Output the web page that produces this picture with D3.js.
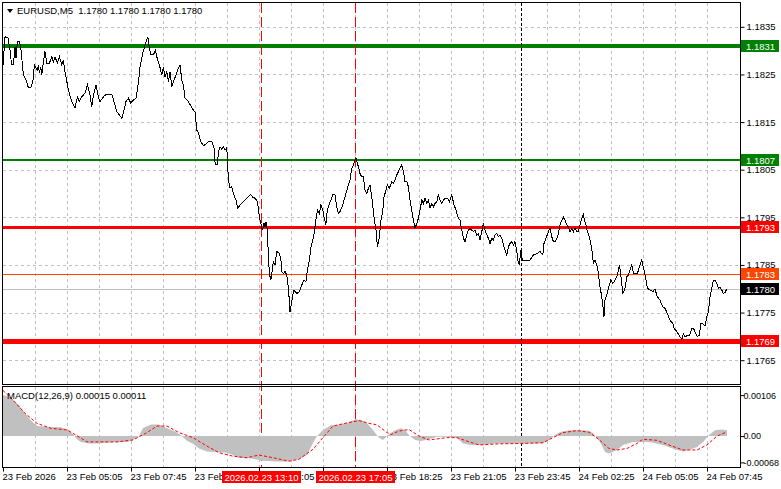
<!DOCTYPE html>
<html>
<head>
<meta charset="utf-8">
<script src="https://cdn.jsdelivr.net/npm/d3@7"></script>
<style>
  body { margin: 0; background: #fff; }
  svg { display: block; font-family: "Liberation Sans", Arial, sans-serif; }
</style>
</head>
<body>
<svg id="chart" width="781" height="489"></svg>
<script>
// EURUSD M5 - close prices (bar index from left edge of chart)
const bars = [
  0,1,2.6,3.5,4.3,5.2,6,6.5,7.2,8.2,
  8.9,10.2,11.5,12.7,13.9,14.9,15.7,16.5,17.2,17.7,
  18.2,18.9,19.4,20.2,21,21.9,23.2,24.4,25.2,26,
  27.2,28.2,29.4,30.2,31,32.7,34.4,36,37.2,38.2,
  39.4,41,42.2,43.5,44.4,45.2,46.5,47.7,48.5,50.2,
  51.5,54.4,55.5,56.9,58.2,59.4,60.5,61.5,62.7,63.9,
  65.2,66.5,67.7,68.5,69.9,71,71.9,72.4,73.2,73.9,
  75.2,76.2,76.9,78.2,79.4,80.2,81,81.9,82.7,83.5,
  84.4,85.2,86.5,87.7,88.5,89.4,90.2,91,92.7,94.4,
  96,96.9,97.7,98.9,100.2,101.5,102.7,104.4,105.5,106,
  106.5,107.2,107.7,108.5,109.4,110.2,111,111.9,112.7,113.5,
  114.4,115.2,116.5,117.4,118.5,120.2,121.9,123.9,124.9,126,
  127.2,128.2,128.9,129.7,130.5,131,131.5,132.2,132.7,133.2,
  133.9,134.4,135.2,136,136.9,138.2,138.9,139.4,140.2,141,
  141.9,142.7,143.2,143.5,144.4,144.9,145.5,146.9,148.2,149.4,
  150.5,151.5,152.2,153.2,153.9,154.9,155.7,156.4,157.2,158.2,
  158.9,159.9,160.5,161.4,161.9,162.7,163.9,164.9,166,166.9,
  167.7,168.5,169.9,171,172.2,173.5,174.4,175.2,176,176.5,
  176.9,177.7,178.5,179.4,180.2,181,181.9,182.7,183.5,184.4,
  185.5,186.5,187.2,188.2,188.9,189.9,190.5,191.5,192.2,193.2,
  194.4,195.2,196,196.9,197.7,198.5,199.4,200.2,201,201.9,
  202.7,203.5,204.9,206,206.9,207.7,208.5,209.4,210.2,211,
  211.9,212.7,213.5,214.4,215.2,216,216.9,217.7,218.5,219.4,
  220.2,221,222.2,223.2,224.4,225.5,226.5,227.7,228.5,229.4,
  230.2,231,231.9,232.7,233.5,234.4,235.2,236,236.9,237.7,
  238.5,239.4,240.2,241,241.9,242.7,243.5,244.4,245.2,246,
  246.9,247.7,248.5,249.4,250.2,251,251.9,252.7,253.5,254.4,
  255.2,256,256.9,257.4,258.2,258.9,259.7,260.5,263.5,265.2,
  266.9,268.5,269.9,270.5,271.5,272.7,273.5,274.4,275.2,276,
  276.9,277.7,278.5,279.4,280.2,281,281.9,282.7,283.5,284.4,
  285.2,286,286.9,287.7,288.5,289.4,290.2,290.7,291.5,292.2,
  293.2,293.9,294.7,295.2,296,296.9,297.7,298.5,299.4,300.2,
  300.5,301,301.9,303.2,303.9,304.9,306,307.2,308.2,308.9,
  309.9,311,311.9,312.7,313.5,314.4,315.2,316,317.2,318.2,
  319.4,320.5,321.5,322.2,323.5,324.9,326,327.2,328.5,329.9,
  331,332.2,333.5,334.9,335.5,336.9,338.5,339.4,340.2,341,
  341.9,343.2,344.4,345.2,346,347.2,348.2,348.9,349.9,351,
  351.9,352.7,353.5,354.4,355.2,356,356.9,357.7,358.5,359.4,
  360.2,361,361.9
];
const closes = [
  1.18270,1.18329,1.18326,1.18301,1.18270,1.18270,1.18308,1.18284,1.18319,1.18319,
  1.18306,1.18249,1.18238,1.18222,1.18222,1.18234,1.18270,1.18264,1.18259,1.18270,
  1.18253,1.18266,1.18249,1.18277,1.18298,1.18274,1.18274,1.18287,1.18277,1.18287,
  1.18274,1.18287,1.18270,1.18280,1.18256,1.18217,1.18193,1.18180,1.18203,1.18193,
  1.18203,1.18211,1.18228,1.18207,1.18182,1.18207,1.18228,1.18203,1.18193,1.18203,
  1.18208,1.18208,1.18193,1.18172,1.18165,1.18158,1.18175,1.18193,1.18200,1.18190,
  1.18196,1.18200,1.18232,1.18266,1.18295,1.18312,1.18322,1.18329,1.18305,1.18291,
  1.18291,1.18301,1.18287,1.18270,1.18249,1.18266,1.18245,1.18256,1.18235,1.18256,
  1.18224,1.18235,1.18249,1.18264,1.18270,1.18238,1.18228,1.18201,1.18193,1.18180,
  1.18171,1.18133,1.18127,1.18109,1.18100,1.18104,1.18109,1.18109,1.18096,1.18067,
  1.18060,1.18060,1.18088,1.18098,1.18093,1.18098,1.18091,1.18096,1.18028,1.18012,
  1.18014,1.18000,1.17986,1.17969,1.17976,1.17983,1.17990,1.17998,1.17992,1.17990,
  1.17983,1.17951,1.17937,1.17923,1.17937,1.17930,1.17941,1.17923,1.17867,1.17832,
  1.17818,1.17832,1.17857,1.17850,1.17878,1.17874,1.17864,1.17836,1.17832,1.17836,
  1.17829,1.17801,1.17773,1.17752,1.17773,1.17787,1.17797,1.17790,1.17794,1.17808,
  1.17818,1.17815,1.17839,1.17860,1.17885,1.17902,1.17920,1.17944,1.17965,1.17958,
  1.17976,1.17965,1.17951,1.17934,1.17958,1.17972,1.17986,1.17997,1.17997,1.17972,
  1.17958,1.17962,1.17976,1.17993,1.18011,1.18028,1.18053,1.18060,1.18070,1.18074,
  1.18067,1.18056,1.18042,1.18035,1.18035,1.18007,1.18000,1.18011,1.18018,1.17993,
  1.17951,1.17923,1.17888,1.17909,1.17941,1.17965,1.17993,1.18007,1.18018,1.18011,
  1.18025,1.18021,1.18028,1.18039,1.18046,1.18053,1.18060,1.18046,1.18025,1.18025,
  1.18014,1.17986,1.17951,1.17927,1.17937,1.17948,1.17965,1.17986,1.17979,1.17990,
  1.17979,1.17986,1.17969,1.17979,1.17972,1.17979,1.17983,1.17997,1.17986,1.17979,
  1.17986,1.17990,1.17990,1.17983,1.17997,1.17976,1.17965,1.17948,1.17944,1.17923,
  1.17906,1.17899,1.17913,1.17923,1.17927,1.17923,1.17920,1.17923,1.17913,1.17916,
  1.17902,1.17920,1.17937,1.17923,1.17913,1.17906,1.17895,1.17906,1.17902,1.17913,
  1.17916,1.17909,1.17913,1.17906,1.17892,1.17881,1.17871,1.17888,1.17895,1.17899,
  1.17892,1.17899,1.17878,1.17860,1.17850,1.17881,1.17860,1.17860,1.17860,1.17871,
  1.17874,1.17878,1.17871,1.17895,1.17906,1.17920,1.17927,1.17909,1.17899,1.17899,
  1.17906,1.17916,1.17934,1.17944,1.17950,1.17944,1.17934,1.17930,1.17920,1.17927,
  1.17920,1.17927,1.17920,1.17920,1.17934,1.17948,1.17958,1.17944,1.17934,1.17920,
  1.17909,1.17895,1.17874,1.17853,1.17860,1.17850,1.17832,1.17804,1.17783,1.17755,
  1.17741,1.17776,1.17787,1.17808,1.17818,1.17811,1.17818,1.17829,1.17850,1.17829,
  1.17790,1.17801,1.17825,1.17829,1.17839,1.17850,1.17832,1.17832,1.17832,1.17846,
  1.17860,1.17839,1.17818,1.17801,1.17797,1.17794,1.17799,1.17783,1.17776,1.17762,
  1.17759,1.17748,1.17734,1.17727,1.17717,1.17710,1.17699,1.17694,1.17706,1.17699,
  1.17701,1.17701,1.17717,1.17717,1.17710,1.17699,1.17703,1.17727,1.17727,1.17722,
  1.17741,1.17752,1.17783,1.17801,1.17818,1.17818,1.17811,1.17801,1.17804,1.17797,
  1.17790,1.17792,1.17800
];

// MACD(12,26,9) histogram (main) and signal line
const macdBars = [0,4,8,11,14,17,22,29,33,35,37,39,43,47,55,62,65,68,70,74,78,82,86,89,92,95,98,102,108,112,
  115,118,124,130,137,142,148,152,155,157,160,164,168,172,176,179,182,185,188,190,193,196,199,201,203,206,209,213,217,222,
  227,230,234,240,246,258,266,270,273,276,279,283,288,293,295,297,299,301,303,307,310,315,320,324,330,337,340,343,347,350,
  353,356,359,362];
const macdMain = [0.00106,0.00100,0.00080,0.00059,0.00040,0.00026,0.00024,0.00023,0.00015,0.00005,-0.00008,-0.00015,-0.00019,-0.00019,-0.00016,-0.00015,-0.00010,0.00000,0.00021,0.00030,
  0.00030,0.00020,0.00012,0.00002,-0.00012,-0.00020,-0.00032,-0.00040,-0.00042,-0.00043,
  -0.00049,-0.00057,-0.00058,-0.00064,-0.00066,-0.00066,-0.00060,-0.00049,-0.00018,0.00000,0.00016,0.00028,0.00029,0.00034,0.00043,0.00042,0.00033,0.00016,-0.00004,-0.00010,
  0.00005,0.00015,0.00020,0.00016,0.00002,-0.00010,-0.00013,-0.00008,-0.00002,-0.00002,
  -0.00005,-0.00019,-0.00023,-0.00023,-0.00019,-0.00019,-0.00019,-0.00019,-0.00010,0.00003,0.00011,0.00015,0.00016,0.00014,0.00008,-0.00004,-0.00020,-0.00041,-0.00045,-0.00036,
  -0.00023,-0.00015,-0.00015,-0.00016,-0.00023,-0.00036,-0.00040,-0.00036,-0.00028,-0.00015,
  0.00003,0.00015,0.00017,0.00015];
const signalBars = [0,5,11,17,24,32,37,42,48,57,65,72,77,82,88,95,102,108,115,122,128,135,143,148,155,160,165,172,178,183,
  187,192,194,198,203,208,213,222,227,232,238,248,260,270,275,280,287,293,298,303,307,312,317,320,327,333,340,347,352,357,362];
const signalVals = [0.00118,0.00093,0.00059,0.00033,0.00020,0.00016,0.00001,-0.00015,-0.00015,-0.00015,-0.00010,0.00009,0.00026,0.00026,0.00009,-0.00004,-0.00026,-0.00043,-0.00052,-0.00056,
  -0.00049,-0.00056,-0.00065,-0.00060,-0.00034,-0.00004,0.00026,0.00034,0.00040,0.00033,
  0.00029,0.00009,0.00004,0.00013,0.00017,0.00000,-0.00010,-0.00004,-0.00004,-0.00013,-0.00023,-0.00020,-0.00019,-0.00017,-0.00004,0.00009,0.00014,0.00010,-0.00009,-0.00032,
  -0.00036,-0.00032,-0.00019,-0.00008,-0.00011,-0.00023,-0.00036,-0.00036,-0.00023,0.00000,0.00011];

// axis ticks
const priceTicks = [1.1835, 1.1825, 1.1815, 1.1805, 1.1795, 1.1785, 1.1775, 1.1765];
const timeTickBars = [0, 32, 64, 96, 128, 160, 192, 224, 256, 288, 320, 352];
const timeTickLabels = ["23 Feb 2026", "23 Feb 05:05", "23 Feb 07:45", "23 Feb 10:25", "23 Feb 13:05", "23 Feb 15:45",
  "23 Feb 18:25", "23 Feb 21:05", "23 Feb 23:45", "24 Feb 02:25", "24 Feb 05:05", "24 Feb 07:45"];
const macdTicks = [0.00106, 0, -0.00068];
const macdTickLabels = ["0.00106", "0.00", "-0.00068"];

// horizontal levels, current bid, vertical markers
const levelPrices = [1.1831, 1.1807, 1.1793, 1.1783, 1.1769];
const bidPrice = 1.1780;
const markerBars = [129, 176];
const markerLabels = ["2026.02.23 13:10", "2026.02.23 17:05"];
const separatorBar = 259;

// styles for the levels (same order as levelPrices)
const levelColors = ["#008000", "#008000", "#ff0000", "#ff4500", "#ff0000"];
const levelWidths = [4, 2, 3, 1, 5];

const svg = d3.select("#chart");
const L = 3, R = 740, T = 3, B = 384, MT = 387, MB = 467;

const x = d3.scaleLinear().domain([0, 368.5]).range([L, R]);
const y = d3.scaleLinear().domain([1.1760, 1.1840]).range([B, T]);
const ym = d3.scaleLinear().domain([-0.00080, 0.00127]).range([MB, MT]);
const px = v => Math.round(v) + 0.5;

// grid
const gridBars = d3.range(16, 368, 16);
const grid = svg.append("g").attr("stroke", "#c0c0c0").attr("stroke-dasharray", "3,3").attr("shape-rendering", "crispEdges");
grid.selectAll("line.v").data(gridBars).join("line").attr("class", "v")
  .attr("x1", d => px(x(d))).attr("x2", d => px(x(d))).attr("y1", T).attr("y2", B);
grid.selectAll("line.vm").data(gridBars).join("line").attr("class", "vm")
  .attr("x1", d => px(x(d))).attr("x2", d => px(x(d))).attr("y1", MT).attr("y2", MB);
grid.selectAll("line.h").data(priceTicks).join("line").attr("class", "h")
  .attr("x1", L).attr("x2", R).attr("y1", d => px(y(d))).attr("y2", d => px(y(d)));

// bid line
svg.append("line").attr("x1", L).attr("x2", R)
  .attr("y1", px(y(bidPrice))).attr("y2", px(y(bidPrice)))
  .attr("stroke", "#c0c0c0").attr("shape-rendering", "crispEdges");

// horizontal levels
svg.selectAll("line.level").data(levelPrices).join("line").attr("class", "level")
  .attr("x1", L).attr("x2", R)
  .attr("y1", d => Math.round(y(d))).attr("y2", d => Math.round(y(d)))
  .attr("stroke", (d, i) => levelColors[i])
  .attr("stroke-width", (d, i) => levelWidths[i])
  .attr("shape-rendering", "crispEdges");

// vertical markers + day separator
svg.selectAll("line.marker").data(markerBars).join("line").attr("class", "marker")
  .attr("x1", d => px(x(d))).attr("x2", d => px(x(d))).attr("y1", T).attr("y2", MB)
  .attr("stroke", "#ff0000").attr("stroke-dasharray", "10,4").attr("shape-rendering", "crispEdges");
svg.append("line")
  .attr("x1", px(x(separatorBar))).attr("x2", px(x(separatorBar))).attr("y1", T).attr("y2", MB)
  .attr("stroke", "#000").attr("stroke-dasharray", "3,2").attr("shape-rendering", "crispEdges");

// price line
const priceData = bars.map((b, i) => ({ b, c: closes[i] }));
svg.append("path").datum(priceData)
  .attr("fill", "none").attr("stroke", "#000").attr("stroke-width", 1)
  .attr("shape-rendering", "crispEdges")
  .attr("d", d3.line().x(d => x(d.b)).y(d => y(d.c)));

// MACD histogram + signal
const histData = macdBars.map((b, i) => ({ b, v: macdMain[i] }));
svg.append("path").datum(histData)
  .attr("fill", "#c0c0c0")
  .attr("d", d3.area().x(d => x(d.b)).y0(ym(0)).y1(d => ym(d.v)));
const sigData = signalBars.map((b, i) => ({ b, v: signalVals[i] }));
svg.append("path").datum(sigData)
  .attr("fill", "none").attr("stroke", "#ff0000").attr("stroke-dasharray", "3,2")
  .attr("d", d3.line().x(d => x(d.b)).y(d => ym(d.v)));

// pane borders
svg.append("rect").attr("x", L - 0.5).attr("y", T - 0.5).attr("width", R - L + 1).attr("height", B - T + 1)
  .attr("fill", "none").attr("stroke", "#000");
svg.append("rect").attr("x", L - 0.5).attr("y", MT - 0.5).attr("width", R - L + 1).attr("height", MB - MT + 1)
  .attr("fill", "none").attr("stroke", "#000");

// axes
const fontSize = "9.5px";
const yAxis = svg.append("g").attr("transform", `translate(${R + 0.5},0)`)
  .call(d3.axisRight(y).tickValues(priceTicks).tickFormat(d3.format(".4f")).tickSize(4).tickPadding(2));
const mAxis = svg.append("g").attr("transform", `translate(${R + 0.5},0)`)
  .call(d3.axisRight(ym).tickValues(macdTicks).tickFormat((d, i) => macdTickLabels[i]).tickSize(4).tickPadding(-1));
const xAxis = svg.append("g").attr("transform", `translate(0,${MB + 0.5})`)
  .call(d3.axisBottom(x).tickValues(timeTickBars).tickFormat((d, i) => timeTickLabels[i]).tickSize(4).tickPadding(2));
[yAxis, mAxis, xAxis].forEach(g => {
  g.select(".domain").remove();
  g.selectAll("text").attr("font-size", fontSize).attr("font-family", "Liberation Sans, Arial, sans-serif").attr("fill", "#000");
  g.selectAll("line").attr("stroke", "#000");
});
mAxis.selectAll("text").attr("font-size", "9px");
xAxis.selectAll("text").attr("text-anchor", "start").attr("dx", -1);

// price tags on the right axis
const tags = levelPrices.map((p, i) => ({ p, fill: levelColors[i] })).concat([{ p: bidPrice, fill: "#000" }]);
const tagG = svg.selectAll("g.tag").data(tags).join("g").attr("class", "tag")
  .attr("transform", d => `translate(${R + 1},${Math.round(y(d.p))})`);
tagG.append("rect").attr("x", 0).attr("y", -6).attr("width", 38).attr("height", 12).attr("fill", d => d.fill);
tagG.append("text").attr("x", 5).attr("y", 3.5).attr("font-size", fontSize).attr("fill", "#fff")
  .text(d => d3.format(".4f")(d.p));

// time tags for vertical markers
const mTag = svg.selectAll("g.mtag").data(markerBars).join("g").attr("class", "mtag")
  .attr("transform", d => `translate(${Math.round(x(d))},471)`);
mTag.append("rect").attr("x", -39).attr("y", 0).attr("width", 79).attr("height", 12).attr("fill", "#ff0000");
mTag.append("text").attr("x", 0.5).attr("y", 9.5).attr("text-anchor", "middle").attr("font-size", fontSize)
  .attr("fill", "#fff").text((d, i) => markerLabels[i]);

// titles
svg.append("path").attr("d", "M7,9 L13,9 L10,13 Z").attr("fill", "#000");
svg.append("text").attr("x", 17).attr("y", 14).attr("font-size", fontSize).style("white-space", "pre")
  .text("EURUSD,M5  1.1780 1.1780 1.1780 1.1780");
svg.append("text").attr("x", 7).attr("y", 399).attr("font-size", fontSize)
  .text("MACD(12,26,9) 0.00015 0.00011");
</script>
</body>
</html>
